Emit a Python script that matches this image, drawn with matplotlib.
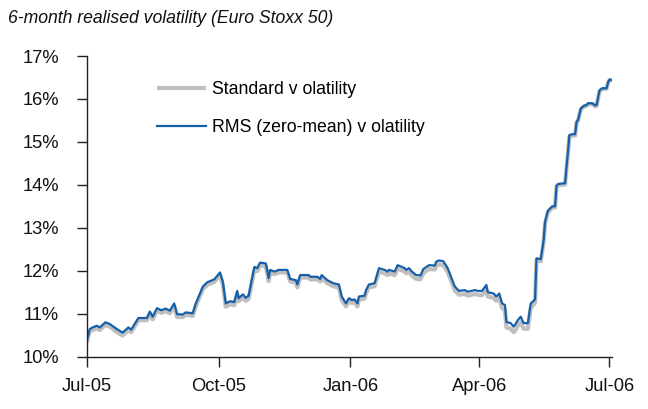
import numpy as np
import pandas as pd
import matplotlib
matplotlib.use('Agg')
import matplotlib.pyplot as plt
import matplotlib.dates as mdates

plt.rcParams['font.family'] = ['Liberation Sans', 'DejaVu Sans']

# 数据
dates = ['2005-07-01', '2005-07-03', '2005-07-05', '2005-07-08', '2005-07-10', '2005-07-14',
         '2005-07-17', '2005-07-22', '2005-07-26', '2005-07-30', '2005-08-01', '2005-08-06',
         '2005-08-12', '2005-08-14', '2005-08-16', '2005-08-19', '2005-08-22', '2005-08-25',
         '2005-08-28', '2005-08-31', '2005-09-02', '2005-09-06', '2005-09-08', '2005-09-13',
         '2005-09-15', '2005-09-20', '2005-09-23', '2005-09-28', '2005-10-02', '2005-10-04',
         '2005-10-06', '2005-10-09', '2005-10-12', '2005-10-14', '2005-10-15', '2005-10-18',
         '2005-10-20', '2005-10-22', '2005-10-26', '2005-10-28', '2005-10-30', '2005-11-03',
         '2005-11-05', '2005-11-06', '2005-11-09', '2005-11-12', '2005-11-18', '2005-11-20',
         '2005-11-24', '2005-11-25', '2005-11-27', '2005-12-03', '2005-12-04', '2005-12-09',
         '2005-12-11', '2005-12-12', '2005-12-16', '2005-12-20', '2005-12-24', '2005-12-26',
         '2005-12-29', '2005-12-31', '2006-01-02', '2006-01-04', '2006-01-06', '2006-01-07',
         '2006-01-11', '2006-01-12', '2006-01-14', '2006-01-18', '2006-01-21', '2006-01-25',
         '2006-01-27', '2006-01-28', '2006-02-01', '2006-02-03', '2006-02-06', '2006-02-08',
         '2006-02-09', '2006-02-11', '2006-02-13', '2006-02-16', '2006-02-19', '2006-02-21',
         '2006-02-25', '2006-03-01', '2006-03-02', '2006-03-04', '2006-03-07', '2006-03-10',
         '2006-03-15', '2006-03-18', '2006-03-22', '2006-03-24', '2006-03-29', '2006-03-31',
         '2006-04-03', '2006-04-06', '2006-04-07', '2006-04-11', '2006-04-13', '2006-04-15',
         '2006-04-17', '2006-04-19', '2006-04-20', '2006-04-23', '2006-04-25', '2006-04-26',
         '2006-04-28', '2006-04-30', '2006-05-02', '2006-05-05', '2006-05-07', '2006-05-10',
         '2006-05-11', '2006-05-14', '2006-05-16', '2006-05-17', '2006-05-19', '2006-05-22',
         '2006-05-24', '2006-05-25', '2006-05-26', '2006-05-31', '2006-06-01', '2006-06-02',
         '2006-06-03', '2006-06-05', '2006-06-07', '2006-06-08', '2006-06-09', '2006-06-11',
         '2006-06-13', '2006-06-15', '2006-06-16', '2006-06-19', '2006-06-21', '2006-06-22',
         '2006-06-24', '2006-06-26', '2006-06-29', '2006-06-30', '2006-07-01', '2006-07-03']

rms_vol = [10.38, 10.64, 10.68, 10.72, 10.68, 10.80, 10.76, 10.64, 10.56, 10.68, 10.63, 10.90,
           10.90, 11.05, 10.93, 11.13, 11.08, 11.12, 11.07, 11.24, 10.99, 10.98, 11.03, 11.01,
           11.23, 11.63, 11.73, 11.80, 11.96, 11.74, 11.24, 11.29, 11.27, 11.53, 11.36, 11.45,
           11.37, 11.42, 12.09, 12.06, 12.19, 12.17, 11.83, 12.02, 11.98, 12.02, 12.02, 11.81,
           11.78, 11.68, 11.90, 11.90, 11.86, 11.86, 11.81, 11.90, 11.78, 11.71, 11.68, 11.40,
           11.24, 11.36, 11.32, 11.33, 11.24, 11.40, 11.42, 11.55, 11.68, 11.71, 12.06, 12.02,
           11.98, 12.02, 11.98, 12.13, 12.09, 12.06, 12.02, 12.06, 11.98, 11.90, 11.89, 12.04,
           12.13, 12.12, 12.21, 12.24, 12.22, 12.06, 11.63, 11.53, 11.55, 11.51, 11.55, 11.53,
           11.53, 11.67, 11.50, 11.47, 11.40, 11.47, 11.24, 11.20, 10.81, 10.78, 10.70, 10.74,
           10.85, 10.93, 10.78, 10.78, 11.24, 11.33, 12.29, 12.27, 12.71, 13.14, 13.40, 13.50,
           13.50, 13.98, 14.02, 14.04, 14.42, 14.77, 15.16, 15.18, 15.18, 15.47, 15.51, 15.78,
           15.84, 15.86, 15.90, 15.90, 15.85, 15.86, 16.20, 16.25, 16.25, 16.39, 16.45, 16.44]

std_vol = [10.33, 10.58, 10.62, 10.66, 10.62, 10.74, 10.70, 10.57, 10.49, 10.62, 10.57, 10.85,
           10.85, 10.99, 10.87, 11.07, 11.02, 11.06, 11.01, 11.18, 10.92, 10.92, 10.97, 10.95,
           11.17, 11.57, 11.67, 11.74, 11.90, 11.67, 11.16, 11.22, 11.20, 11.46, 11.29, 11.38,
           11.30, 11.35, 12.02, 11.99, 12.13, 12.11, 11.76, 11.96, 11.92, 11.96, 11.96, 11.75,
           11.72, 11.61, 11.84, 11.84, 11.80, 11.80, 11.75, 11.83, 11.71, 11.64, 11.61, 11.32,
           11.17, 11.29, 11.25, 11.26, 11.17, 11.33, 11.35, 11.48, 11.61, 11.64, 11.98, 11.94,
           11.90, 11.94, 11.90, 12.05, 12.01, 11.98, 11.94, 11.98, 11.89, 11.81, 11.80, 11.95,
           12.04, 12.03, 12.12, 12.15, 12.13, 11.97, 11.54, 11.44, 11.46, 11.42, 11.46, 11.44,
           11.43, 11.57, 11.40, 11.37, 11.30, 11.37, 11.13, 11.08, 10.68, 10.65, 10.57, 10.60,
           10.72, 10.80, 10.65, 10.65, 11.14, 11.25, 12.24, 12.22, 12.67, 13.10, 13.36, 13.47,
           13.47, 13.95, 13.99, 14.01, 14.39, 14.74, 15.13, 15.15, 15.15, 15.45, 15.49, 15.76,
           15.82, 15.84, 15.88, 15.88, 15.83, 15.84, 16.18, 16.23, 16.24, 16.38, 16.44, 16.43]

tick_dates = ['2005-07-01', '2005-10-01', '2006-01-01', '2006-04-01', '2006-07-01']
tick_labels = ['Jul-05', 'Oct-05', 'Jan-06', 'Apr-06', 'Jul-06']
y_ticks = [10, 11, 12, 13, 14, 15, 16, 17]

x = pd.to_datetime(dates)

fig = plt.figure(figsize=(6.48, 4.09), dpi=100)
ax = fig.add_axes([0.134, 0.128, 0.811, 0.735])

ax.plot(x, std_vol, color='#bfbfbf', lw=3.0, solid_capstyle='butt', label='Standard v olatility')
ax.plot(x, rms_vol, color='#1560a8', lw=1.6, label='RMS (zero-mean) v olatility')

ax.set_ylim(10, 17)
ax.set_xlim(pd.Timestamp('2005-07-01'), pd.Timestamp('2006-07-03'))
ax.set_yticks(y_ticks)
ax.set_yticklabels(['%d%%' % v for v in y_ticks])
ax.set_xticks(pd.to_datetime(tick_dates))
ax.set_xticklabels(tick_labels)

for s in ['top', 'right']:
    ax.spines[s].set_visible(False)
for s in ['left', 'bottom']:
    ax.spines[s].set_color('#222222')
    ax.spines[s].set_linewidth(1.0)
ax.tick_params(axis='both', direction='out', length=7, width=1.0, color='#222222',
               labelsize=13.2, labelcolor='#111111')
ax.tick_params(axis='x', pad=8.5)
ax.tick_params(axis='y', pad=13)

ax.legend(loc='upper left', bbox_to_anchor=(0.231, 0.819), bbox_transform=fig.transFigure,
          frameon=False, fontsize=12.7, handlelength=2.8, handletextpad=0.35,
          labelspacing=1.2, borderaxespad=0)

fig.text(0.012, 0.955, '6-month realised volatility (Euro Stoxx 50)', fontsize=12.7,
         style='italic', color='#111111', va='center', ha='left')

fig.savefig('out.png', dpi=100)
